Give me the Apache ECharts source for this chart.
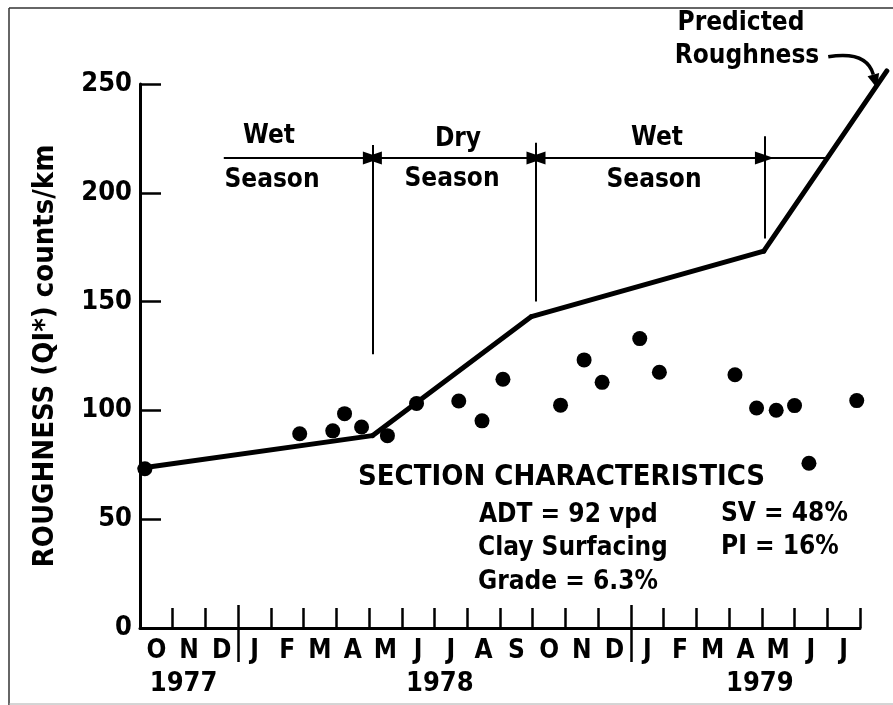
<!DOCTYPE html>
<html>
<head>
<meta charset="utf-8">
<script src="https://cdn.jsdelivr.net/npm/echarts@6/dist/echarts.min.js"></script>
<style>html,body{margin:0;padding:0;background:#fff;}#chart{width:893px;height:705px;}</style>
</head>
<body>
<div id="chart"></div>
<script>
// ---- data ----
const monthLabels = ['O','N','D','J','F','M','A','M','J','J','A','S','O','N','D','J','F','M','A','M','J','J'];
const yearLabels = ['1977','1978','1979'];
const yearPositions = [1.33, 9.16, 18.94];
const yearDividers = [3, 15];
const yMin = 0, yMax = 250, yStep = 50;

// measured roughness (month position from Oct 1977, QI* counts/km)
const measuredX = [0.15, 4.88, 5.89, 6.25, 6.77, 7.56, 8.45, 9.74, 10.45, 11.09, 12.85, 13.57, 14.12, 15.27, 15.87, 18.18, 18.84, 19.44, 20.0, 20.44, 21.9];
const measuredY = [73.2, 89.3, 90.6, 98.5, 92.4, 88.4, 103.2, 104.3, 95.2, 114.3, 102.4, 123.2, 112.9, 133.0, 117.5, 116.4, 101.1, 100.1, 102.2, 75.7, 104.5];

// predicted roughness
const predictedX = [0, 7.1, 11.96, 19.06, 22.82];
const predictedY = [73.4, 88.4, 143.1, 173.2, 256];

// season boundaries (vertical lines)
const seasonBoundaryX = [7.1, 12.1, 19.08];
const seasonBoundaryTop = [222, 223, 226];
const seasonBoundaryBottom = [125.8, 150.1, 179];
const seasonArrowLevel = 216;
const seasonArrowStart = 2.56;
const seasonArrowEnd = 21.06;

// "Predicted Roughness" call-out arrow (from, to)
const calloutFrom = [21.03, 262.5];
const calloutTo = [22.52, 248.1];

// ---- chart ----
const FONT = '"DejaVu Sans Condensed", "DejaVu Sans", sans-serif';
const chart = echarts.init(document.getElementById('chart'), null, {renderer: 'canvas'});

const scatterData = measuredX.map((x, i) => [x, measuredY[i]]);
const predictedData = predictedX.map((x, i) => [x, predictedY[i]]);

const B = seasonBoundaryX, L = seasonArrowLevel;
const tri = [13, 19];
const markLines = [
  ...B.map((x, i) => [{coord: [x, seasonBoundaryTop[i]], symbol: 'none'}, {coord: [x, seasonBoundaryBottom[i]], symbol: 'none'}]),
  [{coord: [seasonArrowStart, L], symbol: 'none'}, {coord: [B[0], L], symbol: 'triangle', symbolSize: tri}],
  [{coord: [B[0], L], symbol: 'triangle', symbolSize: tri}, {coord: [B[1], L], symbol: 'triangle', symbolSize: tri}],
  [{coord: [B[1], L], symbol: 'triangle', symbolSize: tri}, {coord: [B[2], L], symbol: 'triangle', symbolSize: tri}],
  [{coord: [B[2], L], symbol: 'none'}, {coord: [seasonArrowEnd, L], symbol: 'none'}]
];

function txt(text, x, y, size, align, weight) {
  return {type: 'text', x: x, y: y, silent: true,
    style: {text: text, font: (weight || 'bold') + ' ' + size + 'px ' + FONT, fill: '#000', align: align || 'center', verticalAlign: 'middle'}};
}

const option = {
  backgroundColor: '#fff',
  animation: false,
  grid: {left: 140, right: 33, top: 84, bottom: 77},
  xAxis: [
    {type: 'value', position: 'bottom', min: 0, max: 22, interval: 1,
      axisLine: {show: true, lineStyle: {color: '#000', width: 3}},
      axisTick: {show: true, inside: true, length: 20, lineStyle: {color: '#000', width: 2.5}},
      axisLabel: {show: false}, splitLine: {show: false}},
    {type: 'category', position: 'bottom', data: monthLabels, boundaryGap: true,
      axisLine: {show: false}, axisTick: {show: false}, splitLine: {show: false},
      axisLabel: {show: true, interval: 0, margin: 10, fontSize: 26, fontWeight: 'bold', fontFamily: FONT, color: '#000'}},
    {type: 'value', position: 'bottom', min: 0, max: 22, offset: 30,
      axisLine: {show: false}, axisTick: {show: false}, splitLine: {show: false},
      axisLabel: {show: true, customValues: yearPositions, margin: 12, fontSize: 27, fontWeight: 'bold', fontFamily: FONT, color: '#000',
        formatter: function (v) { const i = yearPositions.indexOf(v); return i >= 0 ? yearLabels[i] : ''; }}},
    {type: 'value', position: 'bottom', min: 0, max: 22, offset: 34,
      axisLine: {show: false}, splitLine: {show: false}, axisLabel: {show: false},
      axisTick: {show: true, inside: true, length: 57, customValues: yearDividers, lineStyle: {color: '#000', width: 2.5}}}
  ],
  yAxis: {
    type: 'value', min: yMin, max: yMax, interval: yStep,
    name: 'ROUGHNESS (QI*) counts/km', nameLocation: 'middle', nameGap: 80, nameRotate: 90,
    nameTextStyle: {fontSize: 29, fontWeight: 'bold', fontFamily: FONT, color: '#000'},
    axisLine: {show: true, lineStyle: {color: '#000', width: 3}},
    axisTick: {show: true, inside: true, length: 21, lineStyle: {color: '#000', width: 2.5}},
    axisLabel: {margin: 8, fontSize: 27, fontWeight: 'bold', fontFamily: FONT, color: '#000'},
    splitLine: {show: false}
  },
  series: [
    {type: 'custom', name: 'Predicted Roughness', clip: false, z: 3,
      data: predictedData,
      renderItem: function (params, api) {
        const i = params.dataIndex;
        if (i >= predictedX.length - 1) return null;
        const p1 = api.coord([api.value(0), api.value(1)]);
        const p2 = api.coord([predictedX[i + 1], predictedY[i + 1]]);
        return {type: 'line', shape: {x1: p1[0], y1: p1[1], x2: p2[0], y2: p2[1]},
          style: {stroke: '#000', lineWidth: 5, lineCap: 'round'}};
      }},
    {type: 'scatter', name: 'Measured', data: scatterData, symbol: 'circle', symbolSize: 15,
      itemStyle: {color: '#000', opacity: 1}, z: 4,
      markLine: {silent: true, animation: false, symbol: 'none', label: {show: false},
        lineStyle: {color: '#000', width: 2, type: 'solid', opacity: 1}, emphasis: {disabled: true},
        data: markLines}},
    {type: 'custom', name: 'callout', clip: false, z: 5,
      encode: {x: [0, 2], y: [1, 3]},
      data: [[calloutFrom[0], calloutFrom[1], calloutTo[0], calloutTo[1]]],
      renderItem: function (params, api) {
        const p1 = api.coord([api.value(0), api.value(1)]);
        const p2 = api.coord([api.value(2), api.value(3)]);
        const mx = (p1[0] + p2[0]) / 2, my = (p1[1] + p2[1]) / 2, c = 0.45;
        const cp = [mx - (p1[1] - p2[1]) * c, my - (p2[0] - p1[0]) * c];
        const ang = Math.atan2(p2[1] - cp[1], p2[0] - cp[0]);
        const len = 14, w = 6;
        const base = [p2[0] - len * Math.cos(ang), p2[1] - len * Math.sin(ang)];
        const left = [base[0] + w * Math.sin(ang), base[1] - w * Math.cos(ang)];
        const right = [base[0] - w * Math.sin(ang), base[1] + w * Math.cos(ang)];
        return {type: 'group', children: [
          {type: 'bezierCurve', shape: {x1: p1[0], y1: p1[1], x2: base[0], y2: base[1], cpx1: cp[0], cpy1: cp[1]},
            style: {stroke: '#000', lineWidth: 3.5, fill: null}},
          {type: 'polygon', shape: {points: [p2, left, right]}, style: {fill: '#000'}}
        ]};
      }}
  ],
  graphic: [
    {type: 'line', shape: {x1: 9, y1: 8, x2: 893, y2: 8}, style: {stroke: '#333', lineWidth: 1.5}, silent: true},
    {type: 'line', shape: {x1: 9, y1: 8, x2: 9, y2: 705}, style: {stroke: '#333', lineWidth: 1.5}, silent: true},
    {type: 'line', shape: {x1: 9, y1: 704, x2: 893, y2: 704}, style: {stroke: '#aaa', lineWidth: 1}, silent: true},
    txt('Wet', 269, 136, 26), txt('Season', 272, 180, 26),
    txt('Dry', 458, 139, 26), txt('Season', 452, 179, 26),
    txt('Wet', 657, 138, 26), txt('Season', 654, 180, 26),
    txt('Predicted', 741, 23, 26), txt('Roughness', 747, 56, 26),
    txt('SECTION CHARACTERISTICS', 358, 477, 29, 'left'),
    txt('ADT = 92 vpd', 479, 515, 26, 'left'), txt('SV = 48%', 721, 514, 26, 'left'),
    txt('Clay Surfacing', 478, 548, 26, 'left'), txt('PI = 16%', 721, 547, 26, 'left'),
    txt('Grade = 6.3%', 478, 582, 26, 'left')
  ]
};
chart.setOption(option);
</script>
</body>
</html>
